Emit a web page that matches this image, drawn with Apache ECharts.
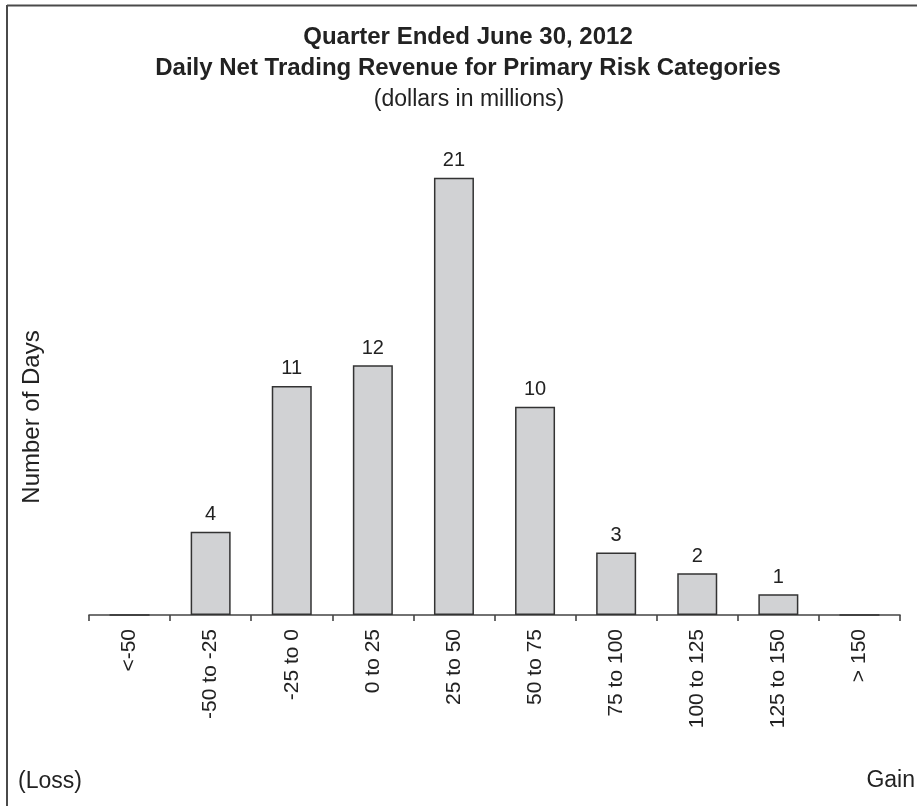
<!DOCTYPE html>
<html>
<head>
<meta charset="utf-8">
<script src="https://cdn.jsdelivr.net/npm/echarts@6/dist/echarts.min.js"></script>
<style>
html,body{margin:0;padding:0;background:#fff;}
#c{width:917px;height:806px;}
</style>
</head>
<body>
<div id="c"></div>
<script>
var categories = ['<-50', '-50 to -25', '-25 to 0', '0 to 25', '25 to 50', '50 to 75', '75 to 100', '100 to 125', '125 to 150', '> 150'];
var days = [0, 4, 11, 12, 21, 10, 3, 2, 1, 0];
var titleLines = ['Quarter Ended June 30, 2012', 'Daily Net Trading Revenue for Primary Risk Categories'];
var subtitle = '(dollars in millions)';
var yName = 'Number of Days';
var leftNote = '(Loss)';
var rightNote = 'Gain';

var FONT = '"Liberation Sans", Arial, Helvetica, sans-serif';
var TXT = '#222';

var chart = echarts.init(document.getElementById('c'), null, {renderer: 'canvas'});
chart.setOption({
  backgroundColor: '#fff',
  animation: false,
  grid: {left: 89, right: 17, top: 94.5, bottom: 191, containLabel: false},
  xAxis: {
    type: 'category',
    data: categories,
    boundaryGap: true,
    axisLine: {show: true, lineStyle: {color: '#444', width: 1.6}},
    axisTick: {show: true, alignWithLabel: false, length: 6, lineStyle: {color: '#444', width: 1.6}},
    axisLabel: {rotate: 90, margin: 14, fontSize: 21, color: TXT, fontFamily: FONT, interval: 0}
  },
  yAxis: {
    type: 'value', min: 0, max: 25,
    show: false,
    splitLine: {show: false}
  },
  series: [{
    type: 'bar',
    data: days,
    barWidth: 40,
    itemStyle: {color: '#d1d2d4', borderColor: '#333', borderWidth: 1.5},
    label: {
      show: true, position: 'top', distance: 7,
      fontSize: 20, color: TXT, fontFamily: FONT,
      formatter: function (p) { return p.value ? String(p.value) : ''; }
    }
  }],
  graphic: [
    {type: 'line', shape: {x1: 7, y1: 5.5, x2: 917, y2: 5.5}, style: {stroke: '#4a4a4a', lineWidth: 2}},
    {type: 'line', shape: {x1: 7, y1: 5, x2: 7, y2: 806}, style: {stroke: '#4a4a4a', lineWidth: 2}},
    {type: 'text', x: 468, y: 37, style: {text: titleLines[0], font: 'bold 24px ' + FONT, fill: TXT, textAlign: 'center', textVerticalAlign: 'middle'}},
    {type: 'text', x: 468, y: 68, style: {text: titleLines[1], font: 'bold 24px ' + FONT, fill: TXT, textAlign: 'center', textVerticalAlign: 'middle'}},
    {type: 'text', x: 469, y: 100, style: {text: subtitle, font: '23px ' + FONT, fill: TXT, textAlign: 'center', textVerticalAlign: 'middle'}},
    {type: 'text', x: 32, y: 417, rotation: Math.PI / 2, style: {text: yName, font: '24px ' + FONT, fill: TXT, textAlign: 'center', textVerticalAlign: 'middle'}},
    {type: 'text', x: 18, y: 782, style: {text: leftNote, font: '23px ' + FONT, fill: TXT, textAlign: 'left', textVerticalAlign: 'middle'}},
    {type: 'text', x: 915, y: 781, style: {text: rightNote, font: '23px ' + FONT, fill: TXT, textAlign: 'right', textVerticalAlign: 'middle'}}
  ]
});
</script>
</body>
</html>
